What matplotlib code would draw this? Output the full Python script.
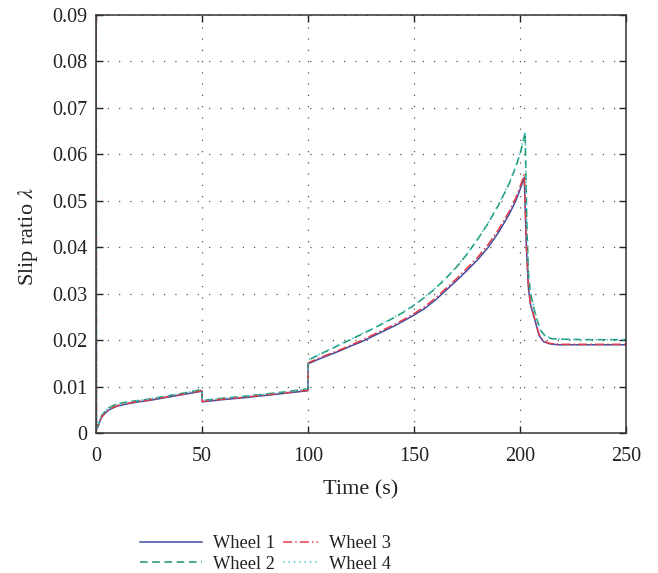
import matplotlib
matplotlib.use("Agg")
import matplotlib.pyplot as plt

plt.rcParams['font.family'] = ['Liberation Serif', 'DejaVu Serif']
plt.rcParams['mathtext.fontset'] = 'stix'

# ---- data ----
t1 = [0, 0.05, 0.15, 0.5, 1, 2, 3, 5, 7, 10, 15, 20, 25, 30, 35, 40, 45, 49.9,
      50.1, 60, 70, 80, 90, 99.9,
      100.1, 105, 110, 115, 120, 125, 130, 135, 140, 145, 150, 155, 160, 165, 170,
      175, 180, 185, 190, 195, 198, 200, 202,
      203, 204, 205, 207, 209, 211, 214, 218, 230, 250]
w1 = [0, 0.1, 0.002, 0.0010, 0.0015, 0.0028, 0.0036, 0.0046, 0.0052, 0.0058, 0.0063, 0.0067, 0.0070, 0.0074, 0.0078, 0.0082, 0.0086, 0.0090,
      0.0067, 0.0072, 0.0076, 0.0081, 0.0086, 0.0091,
      0.0149, 0.0159, 0.0168, 0.0177, 0.0187, 0.0196, 0.0207, 0.0218, 0.0229, 0.0241, 0.0254, 0.0268, 0.0286, 0.0307, 0.0328,
      0.0350, 0.0373, 0.0400, 0.0433, 0.0472, 0.0500, 0.0524, 0.0551,
      0.0400, 0.0310, 0.0275, 0.0243, 0.0210, 0.0197, 0.0192, 0.0190, 0.0190, 0.0190]
w3 = [0, 0.1, 0.002, 0.0011, 0.0016, 0.0029, 0.0037, 0.0047, 0.0053, 0.0059, 0.0064, 0.0068, 0.0071, 0.0075, 0.0079, 0.0083, 0.0087, 0.0091,
      0.0068, 0.0073, 0.0077, 0.0082, 0.0087, 0.0092,
      0.0151, 0.0161, 0.0170, 0.0179, 0.0189, 0.0199, 0.0210, 0.0221, 0.0232, 0.0244, 0.0257, 0.0272, 0.0290, 0.0311, 0.0332,
      0.0355, 0.0378, 0.0406, 0.0439, 0.0478, 0.0506, 0.0530, 0.0557,
      0.0405, 0.0313, 0.0277, 0.0245, 0.0212, 0.0198, 0.0193, 0.0191, 0.0191, 0.0191]

t2 = [0, 0.05, 0.15, 0.5, 1, 2, 3, 5, 7, 10, 15, 20, 25, 30, 35, 40, 45, 49.9,
      50.1, 60, 70, 80, 90, 99.9,
      100.1, 105, 110, 115, 120, 125, 130, 135, 140, 145, 150, 155, 160, 165, 170,
      175, 180, 185, 190, 195, 198, 200, 202.4,
      203.2, 204, 205, 207, 209.5, 212, 215, 220, 230, 250]
w2 = [0, 0.1, 0.002, 0.0011, 0.0017, 0.0031, 0.0040, 0.0051, 0.0057, 0.0063, 0.0067, 0.0070, 0.0073, 0.0077, 0.0081, 0.0085, 0.0089, 0.0094,
      0.0070, 0.0075, 0.0079, 0.0084, 0.0089, 0.0095,
      0.0157, 0.0168, 0.0179, 0.0190, 0.0201, 0.0212, 0.0223, 0.0235, 0.0247, 0.0260, 0.0275, 0.0292, 0.0311, 0.0333, 0.0357,
      0.0385, 0.0417, 0.0452, 0.0492, 0.0538, 0.0573, 0.0600, 0.0647,
      0.0450, 0.0340, 0.0300, 0.0260, 0.0222, 0.0208, 0.0203, 0.0202, 0.0201, 0.0201]
w4 = [0, 0.1, 0.002, 0.0011, 0.0017, 0.0031, 0.0040, 0.0051, 0.0057, 0.0063, 0.0067, 0.0070, 0.0073, 0.0077, 0.0081, 0.0085, 0.0089, 0.0094,
      0.0070, 0.0075, 0.0079, 0.0084, 0.0089, 0.0095,
      0.0158, 0.0169, 0.0180, 0.0191, 0.0202, 0.0213, 0.0224, 0.0236, 0.0248, 0.0261, 0.0276, 0.0293, 0.0312, 0.0334, 0.0358,
      0.0386, 0.0418, 0.0453, 0.0494, 0.0540, 0.0575, 0.0603, 0.0650,
      0.0452, 0.0341, 0.0301, 0.0261, 0.0223, 0.0209, 0.0204, 0.0202, 0.0201, 0.0201]

labels = ['Wheel 1', 'Wheel 2', 'Wheel 3', 'Wheel 4']
xticks = [0, 50, 100, 150, 200, 250]
yticks = [0, 0.01, 0.02, 0.03, 0.04, 0.05, 0.06, 0.07, 0.08, 0.09]
ytick_labels = ['0', '0.01', '0.02', '0.03', '0.04', '0.05', '0.06', '0.07', '0.08', '0.09']

fig = plt.figure(figsize=(6.58, 5.73), dpi=100)
ax = fig.add_axes([0.146, 0.2443, 0.8054, 0.7295])

l1, = ax.plot(t1, w1, color='#3d4fa3', lw=1.1, ls='-', label=labels[0])
l2, = ax.plot(t2, w2, color='#1a9466', lw=1.1, ls=(0, (5, 3)), label=labels[1])
l3, = ax.plot(t1, w3, color='#e63946', lw=1.1, ls=(0, (6, 2, 1, 2)), label=labels[2])
l4, = ax.plot(t2, w4, color='#45c6d2', lw=1.1, ls=(0, (1, 2.5)), label=labels[3])

ax.set_xlim(0, 250)
ax.set_ylim(0, 0.09)
ax.set_xticks(xticks)
ax.set_yticks(yticks)
ax.set_yticklabels(ytick_labels)
ax.tick_params(direction='in', top=True, right=True, length=5, width=1,
               labelsize=14.5, colors='#222222')
ax.tick_params(axis='y', pad=6)
ax.tick_params(axis='x', pad=10)
ax.grid(True, color='#555555', ls=(0, (1, 8)), lw=0.9)
for s in ax.spines.values():
    s.set_color('#333333')
    s.set_linewidth(1.1)

ax.set_xlabel('Time (s)', fontsize=16, color='#222222', labelpad=10)
ax.set_ylabel(r'Slip ratio $\lambda$', fontsize=16, color='#222222')
ax.yaxis.set_label_coords(-0.106, 0.471)

leg1 = fig.legend(handles=[l1, l2], loc='center left',
                  bbox_to_anchor=(140 / 658, 1 - 554 / 573), ncol=1, frameon=False,
                  fontsize=13.2, handlelength=3.4, labelspacing=0.2,
                  handletextpad=0.6, borderaxespad=0, borderpad=0)
leg2 = fig.legend(handles=[l3, l4], loc='center left',
                  bbox_to_anchor=(283 / 658, 1 - 554 / 573), ncol=1, frameon=False,
                  fontsize=13.2, handlelength=1.9, labelspacing=0.2,
                  handletextpad=0.6, borderaxespad=0, borderpad=0)
for lg in (leg1, leg2):
    for tx in lg.get_texts():
        tx.set_color('#222222')

fig.savefig('out.png', dpi=100)
